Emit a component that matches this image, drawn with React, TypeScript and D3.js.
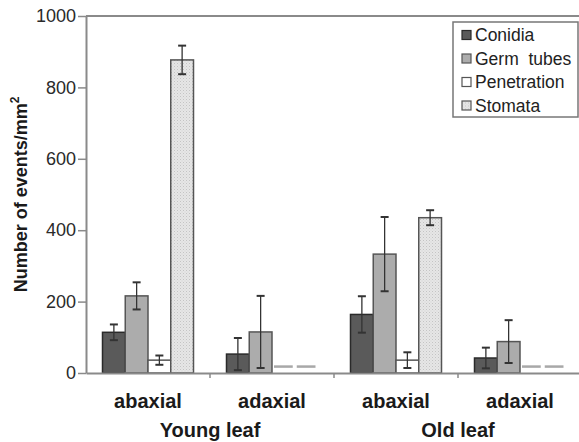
import { useEffect, useRef } from "react";
import * as d3 from "d3";

// categories and series
const groups = ["Young abaxial", "Young adaxial", "Old abaxial", "Old adaxial"];
const groupLabels = ["abaxial", "adaxial", "abaxial", "adaxial"];
const leafLabels = ["Young leaf", "Old leaf"];
const series = ["Conidia", "Germ  tubes", "Penetration", "Stomata"];

// values per series, one per group (null = not recorded, drawn as dash)
const conidia = [114, 53, 164, 42];
const germTubes = [216, 115, 333, 88];
const penetration: (number | null)[] = [36, null, 36, null];
const stomata: (number | null)[] = [877, null, 435, null];

// half-width of error bars
const conidiaErr = [22, 45, 51, 29];
const germTubesErr = [38, 101, 104, 60];
const penetrationErr = [13, 0, 22, 0];
const stomataErr = [40, 0, 21, 0];

const dashLevel = 18;
const yTicks = [0, 200, 400, 600, 800, 1000];

const fills = ["#5a5a5a", "#acacac", "#ffffff", "url(#dots)"];
const strokes = ["#2a2a2a", "#555555", "#555555", "#555555"];
const font = "'Liberation Sans', Arial, sans-serif";

export default function App() {
  const ref = useRef<SVGSVGElement>(null);

  useEffect(() => {
    const svg = d3.select(ref.current);
    svg.selectAll("*").remove();

    const margin = { top: 16, left: 86, bottom: 373 };
    const plotRight = 582;

    const defs = svg.append("defs");
    const pat = defs
      .append("pattern")
      .attr("id", "dots")
      .attr("width", 3)
      .attr("height", 3)
      .attr("patternUnits", "userSpaceOnUse");
    pat.append("rect").attr("width", 3).attr("height", 3).attr("fill", "#e6e6e6");
    pat.append("rect").attr("width", 1).attr("height", 1).attr("fill", "#c4c4c4");
    pat.append("rect").attr("x", 1.5).attr("y", 1.5).attr("width", 1).attr("height", 1).attr("fill", "#d2d2d2");

    const x0 = d3.scaleBand().domain(groups).range([margin.left, plotRight]).paddingInner(0).paddingOuter(0);
    const x1 = d3
      .scaleBand()
      .domain(series)
      .range([16.5, x0.bandwidth() - 16.5])
      .padding(0);
    const y = d3.scaleLinear().domain([0, 1000]).range([margin.bottom, margin.top]);

    const values = [conidia, germTubes, penetration, stomata];
    const errs = [conidiaErr, germTubesErr, penetrationErr, stomataErr];

    const rows = groups.flatMap((g, gi) =>
      series.map((s, si) => ({ g, s, si, v: values[si][gi], e: errs[si][gi] }))
    );

    // frame: top line
    svg
      .append("line")
      .attr("x1", margin.left)
      .attr("x2", plotRight)
      .attr("y1", y(1000))
      .attr("y2", y(1000))
      .attr("stroke", "#8a8a8a")
      .attr("stroke-width", 2);

    const plot = svg.append("g");

    // bars
    plot
      .selectAll("rect.bar")
      .data(rows.filter((d) => d.v !== null))
      .enter()
      .append("rect")
      .attr("class", "bar")
      .attr("x", (d) => (x0(d.g) as number) + (x1(d.s) as number))
      .attr("width", x1.bandwidth())
      .attr("y", (d) => y(d.v as number))
      .attr("height", (d) => y(0) - y(d.v as number))
      .attr("fill", (d) => fills[d.si])
      .attr("stroke", (d) => strokes[d.si])
      .attr("stroke-width", 1.5);

    // dashes for missing values
    plot
      .selectAll("line.dash")
      .data(rows.filter((d) => d.v === null))
      .enter()
      .append("line")
      .attr("x1", (d) => (x0(d.g) as number) + (x1(d.s) as number) + 2)
      .attr("x2", (d) => (x0(d.g) as number) + (x1(d.s) as number) + x1.bandwidth() - 2)
      .attr("y1", y(dashLevel))
      .attr("y2", y(dashLevel))
      .attr("stroke", "#a8a8a8")
      .attr("stroke-width", 2.5);

    // error bars
    const eb = plot
      .selectAll("g.err")
      .data(rows.filter((d) => d.v !== null && d.e > 0))
      .enter()
      .append("g")
      .attr("stroke", "#333")
      .attr("stroke-width", 1.3);
    const cx = (d: { g: string; s: string }) =>
      (x0(d.g) as number) + (x1(d.s) as number) + x1.bandwidth() / 2;
    eb.append("line")
      .attr("x1", cx)
      .attr("x2", cx)
      .attr("y1", (d) => y((d.v as number) + d.e))
      .attr("y2", (d) => y((d.v as number) - d.e));
    [1, -1].forEach((sgn) => {
      eb.append("line")
        .attr("x1", (d) => cx(d) - 4)
        .attr("x2", (d) => cx(d) + 4)
        .attr("y1", (d) => y((d.v as number) + sgn * d.e))
        .attr("y2", (d) => y((d.v as number) + sgn * d.e))
        .attr("stroke-width", 2);
    });

    // y axis
    const yAxis = svg
      .append("g")
      .attr("transform", `translate(${margin.left},0)`)
      .call(
        d3.axisLeft(y).tickValues(yTicks).tickFormat(d3.format("d")).tickSize(8).tickSizeOuter(0).tickPadding(2)
      );
    yAxis.select(".domain").attr("stroke", "#8a8a8a").attr("stroke-width", 2);
    yAxis.selectAll(".tick line").attr("stroke", "#8a8a8a").attr("stroke-width", 1.5);
    yAxis
      .selectAll(".tick text")
      .attr("fill", "#2a2a2a")
      .style("font-family", font)
      .style("font-size", "18px");

    // x axis
    const xAxis = svg
      .append("g")
      .attr("transform", `translate(0,${margin.bottom})`)
      .call(d3.axisBottom(x0).tickValues([]).tickSizeOuter(0));
    xAxis.select(".domain").attr("stroke", "#8a8a8a").attr("stroke-width", 2);
    xAxis
      .selectAll("line.sep")
      .data(groups.slice(1))
      .enter()
      .append("line")
      .attr("class", "sep")
      .attr("x1", (g) => x0(g) as number)
      .attr("x2", (g) => x0(g) as number)
      .attr("y1", 0)
      .attr("y2", 5)
      .attr("stroke", "#8a8a8a")
      .attr("stroke-width", 1.5);

    // group labels
    svg
      .selectAll("text.glabel")
      .data(groups)
      .enter()
      .append("text")
      .attr("x", (g) => (x0(g) as number) + x0.bandwidth() / 2)
      .attr("y", 408)
      .attr("text-anchor", "middle")
      .style("font-family", font)
      .style("font-weight", "bold")
      .style("font-size", "20px")
      .attr("fill", "#1a1a1a")
      .text((_, i) => groupLabels[i]);

    svg
      .selectAll("text.leaf")
      .data(leafLabels)
      .enter()
      .append("text")
      .attr("x", (_, i) => x0(groups[i * 2 + 1]) as number)
      .attr("y", 437)
      .attr("text-anchor", "middle")
      .style("font-family", font)
      .style("font-weight", "bold")
      .style("font-size", "20px")
      .attr("fill", "#1a1a1a")
      .text((d) => d);

    // y label
    const yl = svg
      .append("text")
      .attr("transform", `translate(27,${(y(0) + y(1000)) / 2}) rotate(-90)`)
      .attr("text-anchor", "middle")
      .style("font-family", font)
      .style("font-weight", "bold")
      .style("font-size", "18px")
      .attr("fill", "#1a1a1a");
    yl.append("tspan").text("Number of events/mm");
    yl.append("tspan").attr("dy", -8).style("font-size", "12px").text("2");

    // legend
    const lg = svg.append("g").attr("transform", "translate(453,22)");
    lg.append("rect")
      .attr("width", 125)
      .attr("height", 95)
      .attr("fill", "#fff")
      .attr("stroke", "#777")
      .attr("stroke-width", 1.5);
    const item = lg
      .selectAll("g.item")
      .data(series)
      .enter()
      .append("g")
      .attr("transform", (_, i) => `translate(9,${13 + i * 23.5})`);
    item
      .append("rect")
      .attr("x", 0)
      .attr("y", -4.5)
      .attr("width", 9)
      .attr("height", 9)
      .attr("fill", (_, i) => fills[i])
      .attr("stroke", (_, i) => strokes[i])
      .attr("stroke-width", 1.2);
    item
      .append("text")
      .attr("x", 13)
      .attr("y", 6)
      .style("font-family", font)
      .style("font-size", "17.5px")
      .style("white-space", "pre")
      .attr("fill", "#222")
      .text((d) => d);
  }, []);

  return (
    <svg
      ref={ref}
      width={579}
      height={442}
      style={{ position: "absolute", left: 0, top: 0, background: "#fff" }}
    />
  );
}
